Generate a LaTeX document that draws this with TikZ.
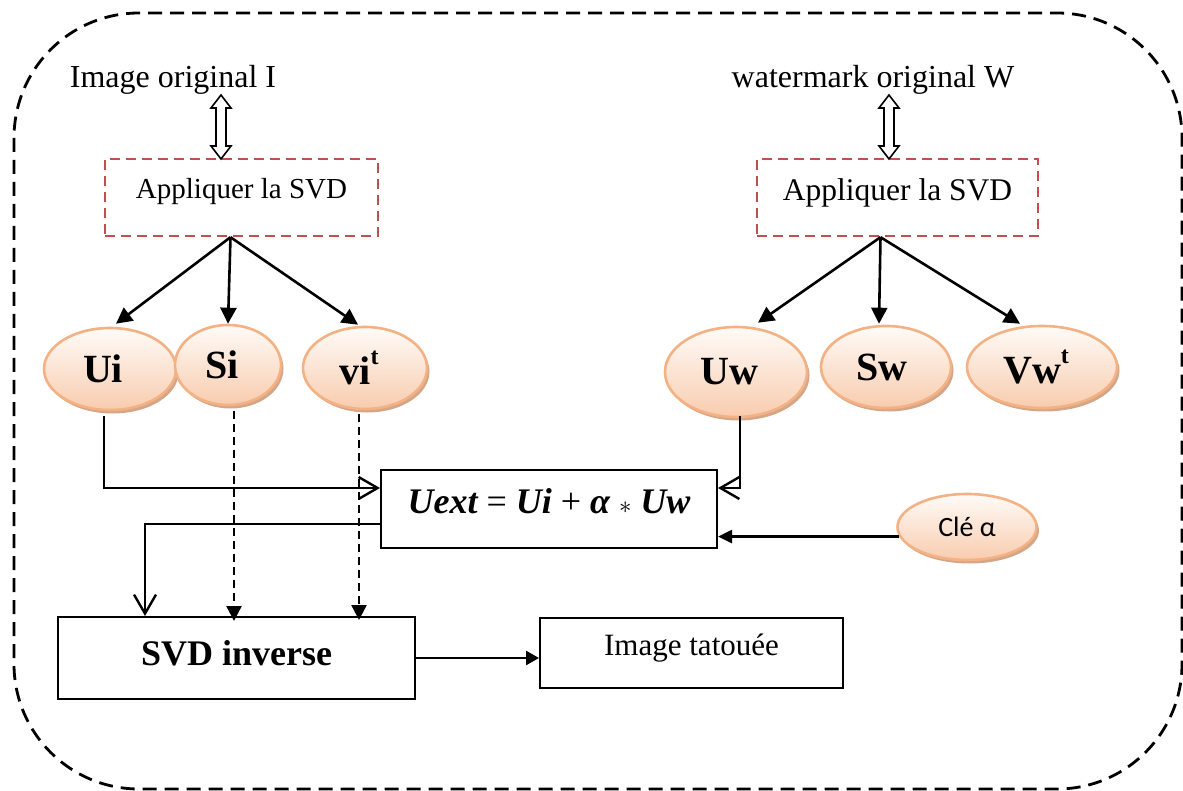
\documentclass[tikz,border=0pt]{standalone}
\usepackage{fontspec}
\setmainfont{Liberation Serif}
\newfontfamily\calibrifont{Carlito}
\usetikzlibrary{arrows.meta,shapes.geometric,shadows,calc}

\definecolor{svdred}{RGB}{192,80,77}
\definecolor{ellborder}{RGB}{244,177,131}
\definecolor{elltop}{RGB}{255,251,248}
\definecolor{ellbot}{RGB}{248,204,174}
\definecolor{ellshadow}{RGB}{212,166,136}

% bold label with a small raised "t"
\newcommand\suptee{\raisebox{0.5em}{\fontsize{24}{24}\selectfont t}}

\begin{document}
\begin{tikzpicture}[x=1pt,y=-1pt,
  lbl/.style={inner sep=0pt, font=\fontsize{32}{38}\selectfont},
  redbox/.style={draw=svdred, dash pattern=on 10pt off 6pt, line width=2.4pt, inner sep=0pt},
  ovalnode/.style={ellipse, draw=ellborder, line width=2.6pt, top color=elltop, bottom color=ellbot,
    inner sep=0pt, drop shadow={shadow xshift=2.5pt, shadow yshift=-3.5pt, fill=ellshadow, opacity=1},
    font=\fontsize{40}{44}\selectfont\bfseries},
  plainbox/.style={draw, line width=2pt, inner sep=0pt},
  arr/.style={line width=2.6pt, -{Triangle[length=16pt,width=16pt]}},
  openarr/.style={line width=2.4pt, -{Straight Barb[length=19pt,width=22pt]}},
  dasharr/.style={line width=2.4pt, dash pattern=on 8pt off 5pt, -{Triangle[length=15pt,width=15pt]}},
  updown/.pic={\draw[fill=white, line width=1.6pt]
    (0,0) -- (10,13) -- (5,13) -- (5,51) -- (10,51) -- (0,64) -- (-10,51)
    -- (-5,51) -- (-5,13) -- (-10,13) -- cycle;}
]
\useasboundingbox (0,0) rectangle (1183,791);

% dashed frame round the whole scheme
\draw[line width=2.8pt, dash pattern=on 14pt off 8pt, rounded corners=125pt]
  (14,13) rectangle (1182,789);

% inputs
\node[lbl] (imgI) at (173,80) {Image original I};
\node[lbl] (wmW) at (873,80) {watermark original W};

\node[redbox, minimum width=273pt, minimum height=77pt] (svd1) at (241.5,197.5) {};
\node[font=\fontsize{29}{34}\selectfont] at ([yshift=6pt]svd1.center) {Appliquer la SVD};
\node[redbox, minimum width=281pt, minimum height=77pt] (svd2) at (897.5,197.5) {};
\node[font=\fontsize{31.5}{36}\selectfont] at ([yshift=5pt]svd2.center) {Appliquer la SVD};

\pic at (221,95) {updown};
\pic at (889,95) {updown};

% SVD factors of the image
\node[ovalnode, minimum width=132pt, minimum height=82pt] (ui) at (110,369) {Ui\hspace*{14pt}};
\node[ovalnode, minimum width=106pt, minimum height=80pt] (si) at (228,365) {Si\hspace*{12pt}};
\node[ovalnode, minimum width=124pt, minimum height=82pt] (vi) at (365,368) {vi\suptee\hspace*{12pt}};

% SVD factors of the watermark
\node[ovalnode, minimum width=142pt, minimum height=90pt] (uw) at (736,372) {Uw\hspace*{14pt}};
\node[ovalnode, minimum width=130pt, minimum height=82pt] (sw) at (886,367) {Sw\hspace*{8pt}};
\node[ovalnode, minimum width=150pt, minimum height=82pt] (vw) at (1042,367) {Vw\suptee\hspace*{12pt}};

\node[ovalnode, minimum width=139pt, minimum height=66pt, font=\fontsize{28}{32}\selectfont\calibrifont]
  (cle) at (967,527) {Clé α};

% embedding, inversion and result
\node[plainbox, minimum width=336pt, minimum height=78pt] (uext) at (549,509) {};
\node[font=\fontsize{36}{40}\selectfont\bfseries\itshape] at ([yshift=8pt]uext.center)
  {Uext {\mdseries\upshape=} Ui {\mdseries\upshape+} α {\mdseries\upshape$\ast$} Uw};
\node[plainbox, minimum width=357pt, minimum height=82pt] (svdinv) at (236.5,658) {};
\node[font=\fontsize{36}{40}\selectfont\bfseries] at ([yshift=5pt]svdinv.center) {SVD inverse};
\node[plainbox, minimum width=303pt, minimum height=70pt] (imgt) at (691.5,653) {};
\node[font=\fontsize{31}{36}\selectfont] at ([yshift=5pt]imgt.center) {Image tatouée};

% decomposition arrows
\coordinate (o1) at ([xshift=-11pt]svd1.south);
\coordinate (o2) at ([xshift=-17pt]svd2.south);
\draw[arr] (o1) -- ([shift={(6,-3)}]ui.north);
\draw[arr] (o1) -- (si.north);
\draw[arr] (o1) -- ([shift={(-7,-1)}]vi.north);
\draw[arr] (o2) -- ([shift={(22,-3)}]uw.north);
\draw[arr] (o2) -- ([shift={(-7,-1)}]sw.north);
\draw[arr] (o2) -- ([shift={(-22,-1)}]vw.north);

% data flow
\draw[openarr] ([shift={(-6,5)}]ui.south) |- ([yshift=21pt]uext.west);
\draw[openarr] ([shift={(4,-2)}]uw.south) |- ([yshift=21pt]uext.east);
\draw[openarr] ([yshift=-15pt]uext.west) -| ([xshift=-91.5pt]svdinv.north);
\draw[dasharr] ([shift={(6,5)}]si.south) -- ([shift={(6,5)}]si.south |- svdinv.north);
\draw[dasharr] ([shift={(-6,4)}]vi.south) -- ([shift={(-6,4)}]vi.south |- svdinv.north);
\draw[arr, -{Triangle[length=14pt,width=13pt]}] (cle.188) -- (uext.east |- cle.188);
\draw[arr, -{Triangle[length=13pt,width=14pt]}] (svdinv.east) -- (svdinv.east -| imgt.west);
\end{tikzpicture}
\end{document}
